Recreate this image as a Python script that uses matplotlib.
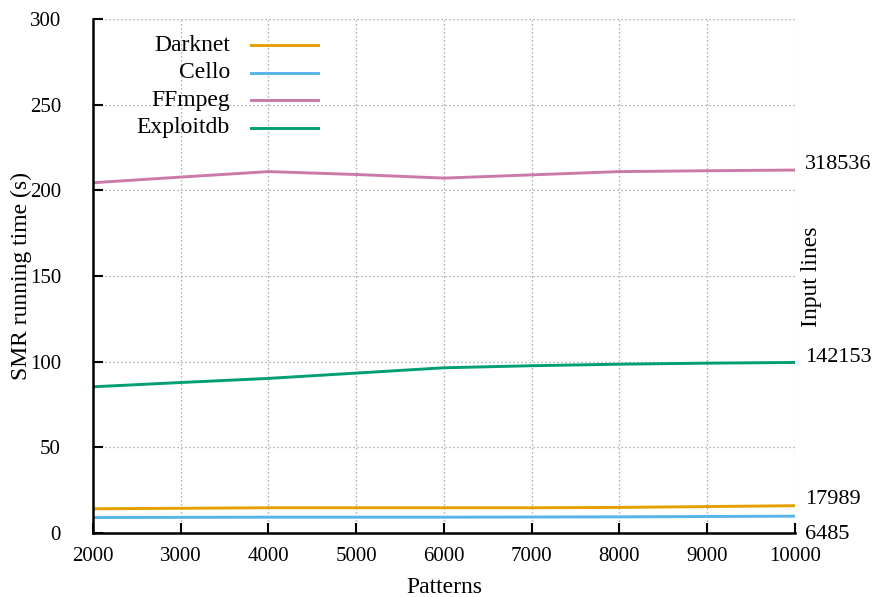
import numpy as np
import matplotlib.pyplot as plt

plt.rcParams['font.family'] = ['Liberation Serif', 'DejaVu Serif']

patterns = [2000, 3000, 4000, 5000, 6000, 7000, 8000, 9000, 10000]
darknet = [14.2, 14.5, 14.8, 14.8, 14.8, 14.8, 15.0, 15.5, 16.0]
cello = [9.1, 9.2, 9.3, 9.3, 9.3, 9.4, 9.5, 9.7, 9.9]
ffmpeg = [204.5, 207.8, 211.0, 209.3, 207.2, 209.1, 211.0, 211.5, 211.9]
exploitdb = [85.4, 87.9, 90.3, 93.4, 96.5, 97.7, 98.6, 99.2, 99.6]

series = ["Darknet", "Cello", "FFmpeg", "Exploitdb"]
colors = ["#E69F00", "#56B4E9", "#CC79A7", "#009E73"]
input_lines = ["17989", "6485", "318536", "142153"]
# pixel offsets of the right-hand labels from the line ends
label_dy = [6, -18, 6, 5]

fig = plt.figure(figsize=(8.74, 5.97), dpi=100)
ax = fig.add_axes([0.1064, 0.107, 0.8032, 0.861])

for i, (name, vals, c, lab, dy) in enumerate(zip(series, [darknet, cello, ffmpeg, exploitdb],
                                                 colors, input_lines, label_dy)):
    ax.plot(patterns, vals, color=c, lw=2.1)
    ax.annotate(lab, xy=(patterns[-1], vals[-1]), xytext=(10, dy),
                textcoords='offset pixels', va='center', ha='left',
                fontsize=16, annotation_clip=False)
    # legend entry: right-aligned text, line sample to the right
    ly = 0.949 - i * 0.0535
    ax.text(0.195, ly, name, transform=ax.transAxes, ha='right', va='center',
            fontsize=17)
    ax.plot([0.225, 0.32], [ly, ly], transform=ax.transAxes, color=c, lw=2.1)

ax.set_xlim(2000, 10000)
ax.set_ylim(0, 300)
ax.set_xticks(np.arange(2000, 10001, 1000))
ax.set_yticks(np.arange(0, 301, 50))
ax.grid(True, linestyle=(0, (1, 2.2)), color='#999999', lw=0.9)
ax.tick_params(direction='in', length=7, width=1.5, labelsize=15)
ax.tick_params(axis='x', pad=10)
ax.tick_params(axis='y', pad=23)
for s in ['top', 'right']:
    ax.spines[s].set_visible(False)
for s in ['left', 'bottom']:
    ax.spines[s].set_linewidth(1.8)

ax.set_xlabel("Patterns", fontsize=17, labelpad=8)
ax.set_ylabel("SMR running time (s)", fontsize=17)
ax.yaxis.set_label_coords(-0.087, 0.5)
fig.text(812 / 874, 1 - 277 / 597, "Input lines", rotation=90,
         ha='center', va='center', fontsize=17)

fig.savefig("out.png", dpi=100)
